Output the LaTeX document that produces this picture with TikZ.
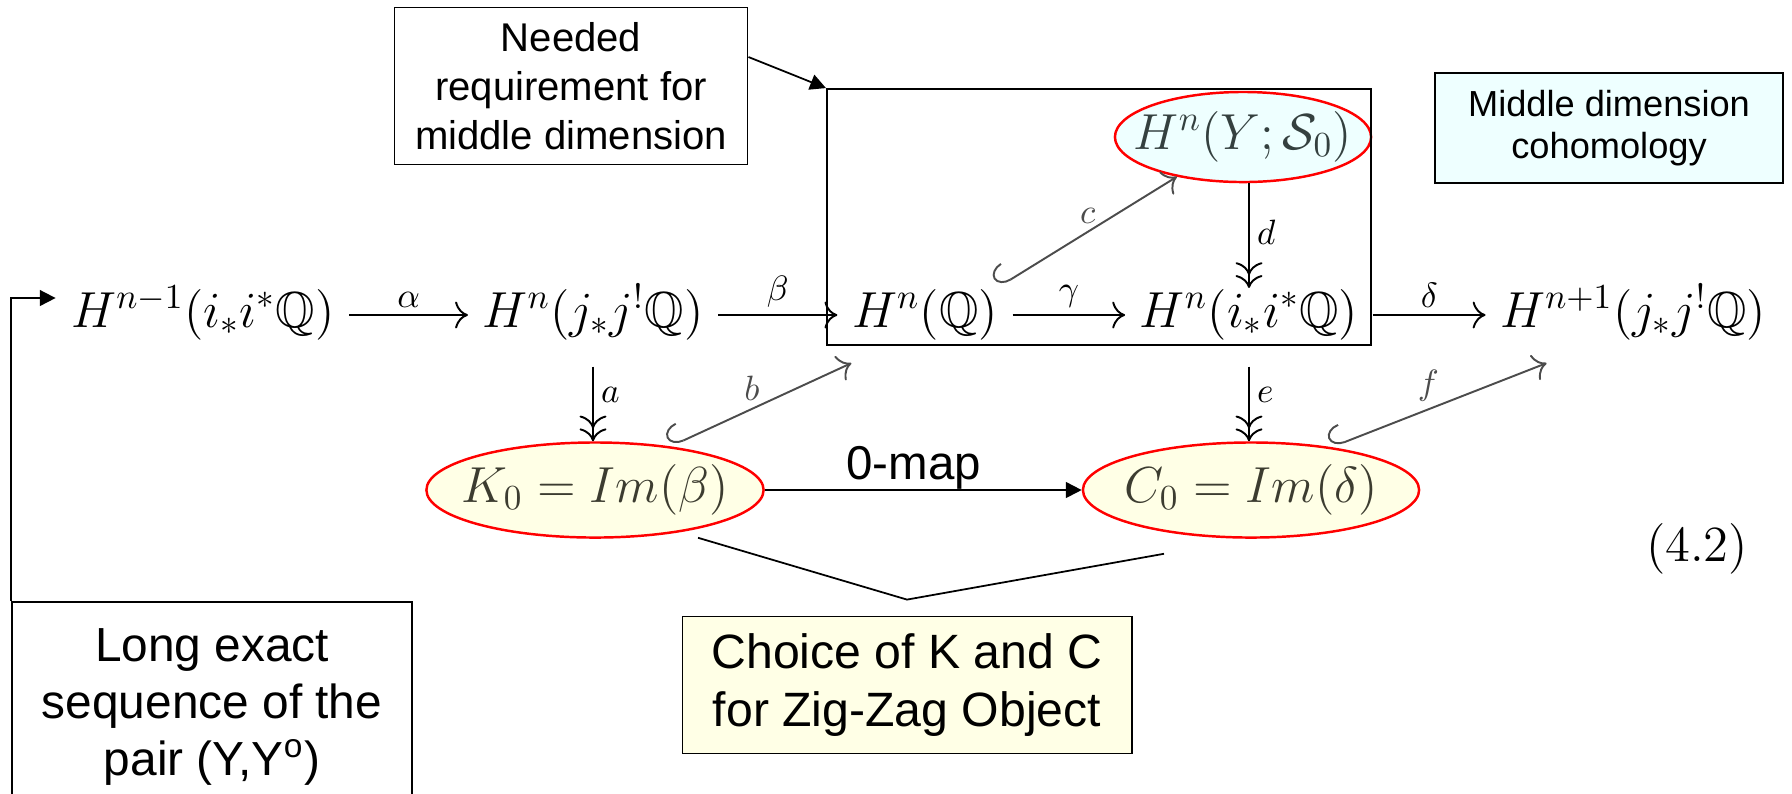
\documentclass[tikz,border=0pt]{standalone}
\usepackage{amsmath, amssymb}
\usepackage{fontspec}
\newfontfamily\arialfont{Liberation Sans}
\usepackage{tikz}
\usetikzlibrary{arrows.meta, positioning, calc, shapes.geometric}
\definecolor{NoteYellow}{HTML}{FFFFE6}
\definecolor{NoteCyan}{HTML}{EEFFFF}
\definecolor{InkOlive}{HTML}{3C3C30}
\definecolor{InkTeal}{HTML}{34403F}

\begin{document}
\begin{tikzpicture}[x=0.01cm, y=-0.01cm, >={To[scale=1.3]},
    seq/.style={font=\fontsize{14.4}{17}\selectfont, text height=11pt, text depth=4pt, inner sep=2pt},
    lbl/.style={font=\fontsize{14.4}{17}\selectfont, inner sep=2pt},
    cdarrow/.style={line width=0.55pt, ->, shorten <=2pt, shorten >=2pt},
    epi/.style={line width=0.55pt, ->>},
    mono/.style={line width=0.55pt, black!70, {Hooks[right,length=4pt,width=11pt]}->},
    notebox/.style={draw, line width=0.5pt, align=center, inner sep=2pt},
    redoval/.style={ellipse, draw=red, line width=0.7pt, inner sep=0pt},
    pointer/.style={line width=0.5pt, -{Triangle[length=4.5pt,width=4.5pt]}}]
  \useasboundingbox (0,0) rectangle (1792,793);
  \clip (0,0) rectangle (1792,793);

  % --- Highlighted groups ---
  \node[redoval, fill=NoteCyan, minimum width=2.56cm, minimum height=0.9cm] (YS0e) at (1243,137) {};
  \node[redoval, fill=NoteYellow, minimum width=3.37cm, minimum height=0.95cm] (K0e) at (595,490) {};
  \node[redoval, fill=NoteYellow, minimum width=3.36cm, minimum height=0.95cm] (C0e) at (1251,490) {};
  \node[draw, line width=0.5pt, minimum width=5.44cm, minimum height=2.56cm] (midbox) at (1099,217) {};

  % --- Long exact sequence ---
  \node[seq] (Hm1) at (203,315) {$H^{n-1}(i_*i^*\mathbb{Q})$};
  \node[seq] (HnJ) at (593,315) {$H^n(j_*j^!\mathbb{Q})$};
  \node[seq] (HnQ) at (925,315) {$H^n(\mathbb{Q})$};
  \node[seq] (HnI) at (1249,315) {$H^n(i_*i^*\mathbb{Q})$};
  \node[seq] (Hp1) at (1633,315) {$H^{n+1}(j_*j^!\mathbb{Q})$};
  \node[seq, text=InkTeal] (YS0) at (YS0e) {$H^n(Y;\mathcal{S}_0)$};
  \node[seq, text=InkOlive] (K0) at (K0e) {$K_0 = Im(\beta)$};
  \node[seq, text=InkOlive] (C0) at (C0e) {$C_0 = Im(\delta)$};
  \node[lbl] (eqno) at (1697,549) {$(4.2)$};

  \draw[cdarrow] (Hm1) -- node[lbl, above] {$\scriptstyle\alpha$} (HnJ);
  \draw[cdarrow] (HnJ) -- node[lbl, above] {$\scriptstyle\beta$} (HnQ);
  \draw[cdarrow] (HnQ) -- node[lbl, above] {$\scriptstyle\gamma$} (HnI);
  \draw[cdarrow] (HnI) -- node[lbl, above] {$\scriptstyle\delta$} (Hp1);

  % --- Kernel and cokernel maps ---
  \draw[epi, shorten <=5pt] (HnJ.south) -- node[lbl, right] {$\scriptstyle a$} (HnJ.south |- K0e.north);
  \draw[epi, shorten >=-2pt] (HnI.north |- YS0e.south) -- node[lbl, right] {$\scriptstyle d$} (HnI.north);
  \draw[epi, shorten <=5pt] (HnI.south) -- node[lbl, right] {$\scriptstyle e$} (HnI.south |- C0e.north);
  \draw[mono] (K0e.30) -- node[lbl, above, pos=0.45] {$\scriptstyle b$} ($(HnQ.south west)+(7,14)$);
  \draw[mono] ($(HnQ.north east)+(-7,6)$) -- node[lbl, above] {$\scriptstyle c$} (YS0e.211);
  \draw[mono] (C0e.28) -- node[lbl, above, pos=0.45] {$\scriptstyle f$} ($(Hp1.south west)+(54,14)$);
  \draw[pointer] (K0e) -- node[above, pos=0.47, inner sep=0pt, font=\arialfont\fontsize{13.5}{15}\selectfont] {0-map} (C0e);

  % --- Notes ---
  \node[notebox, font=\arialfont\fontsize{11.4}{14}\selectfont, minimum width=3.53cm, minimum height=1.57cm] (need) at (571,86) {Needed\\requirement for\\middle dimension};
  \draw[pointer] ($(need.east)+(0,-29)$) -- (midbox.north west);
  \node[notebox, fill=NoteCyan, font=\arialfont\fontsize{10.3}{11.8}\selectfont, minimum width=3.48cm, minimum height=1.1cm] (midnote) at (1609,128) {Middle dimension\\cohomology};
  \node[notebox, font=\arialfont\fontsize{13.6}{16.2}\selectfont, minimum width=4cm, minimum height=2.1cm] (lesbox) at (212,707) {Long exact\\sequence of the\\pair (Y,Y\textsuperscript{o})};
  \coordinate (lesin) at ($(Hm1.west)+(-8,-17)$);
  \draw[pointer] (lesbox.north west) |- (lesin);
  \node[notebox, fill=NoteYellow, font=\arialfont\fontsize{13.7}{16.5}\selectfont, minimum width=4.49cm, minimum height=1.37cm] (choice) at (907,685) {Choice of K and C\\for Zig-Zag Object};
  \draw[line width=0.5pt] ($(K0e.south)+(103,-1)$) -- ($(choice.north)+(0,-16)$) -- ($(C0e.south)+(-87,15)$);
\end{tikzpicture}
\end{document}
